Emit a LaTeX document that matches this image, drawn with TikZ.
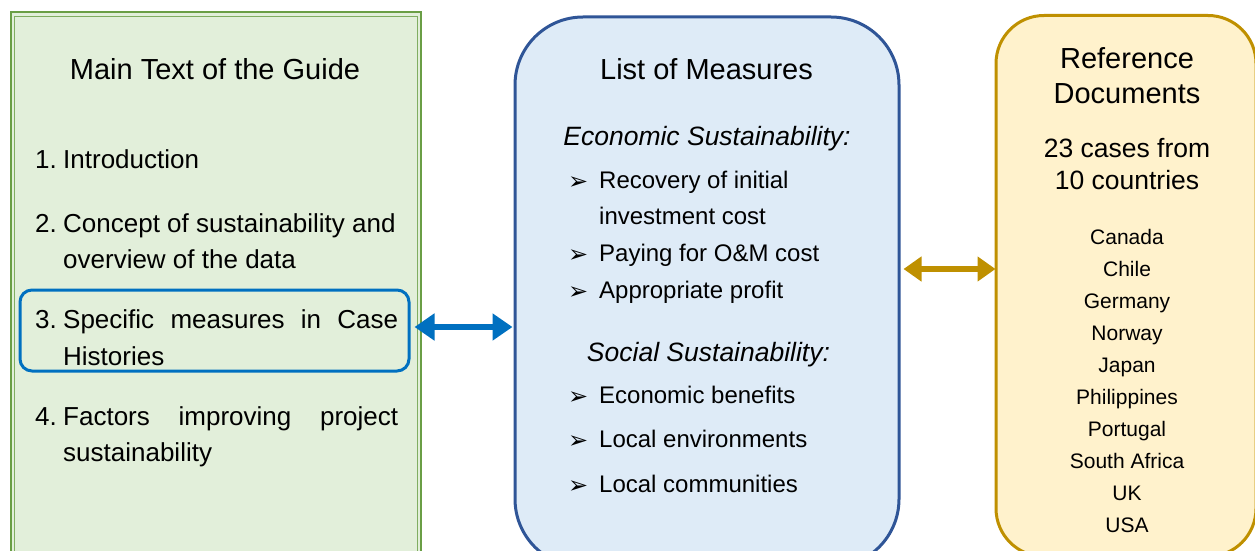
\documentclass[tikz,border=0pt]{standalone}
\usepackage{fontspec}
\setmainfont{Liberation Sans}
\newfontfamily\dvsans{DejaVu Sans}
\usetikzlibrary{arrows.meta}
\definecolor{gfill}{HTML}{E2EFDA}
\definecolor{gline}{HTML}{6A9E45}
\definecolor{bfill}{HTML}{DEEBF7}
\definecolor{bline}{HTML}{2F5597}
\definecolor{yfill}{HTML}{FFF2CC}
\definecolor{yline}{HTML}{BF9000}
\definecolor{hblue}{HTML}{0070C0}
\begin{document}
\begin{tikzpicture}[x=1pt,y=-1pt,
  txt/.style={inner sep=0pt, anchor=base west},
  ctxt/.style={inner sep=0pt, anchor=base},
  titlef/.style={font=\fontsize{29}{34}\selectfont},
  itemf/.style={font=\fontsize{26}{31}\selectfont},
  headf/.style={font=\fontsize{26.5}{31}\selectfont\itshape},
  bulf/.style={font=\fontsize{24}{28}\selectfont},
  ctryf/.style={font=\fontsize{21}{25}\selectfont},
  casef/.style={font=\fontsize{26.5}{31}\selectfont},
  bulletmark/.style={inner sep=0pt, anchor=base west, font=\dvsans\fontsize{24}{28}\selectfont},
  barrow/.style={draw=hblue, line width=6pt, {Triangle[length=20pt,width=26pt]}-{Triangle[length=20pt,width=26pt]}},
  garrow/.style={draw=yline, line width=5.5pt, {Triangle[length=18pt,width=24pt]}-{Triangle[length=18pt,width=24pt]}}
]
\useasboundingbox (0,0) rectangle (1255,551);
\clip (0,0) rectangle (1255,551);

% left box
\node[draw=gline, line width=2pt, fill=gfill, minimum width=410.5pt, minimum height=590pt, inner sep=0pt]
  (left) at (215.75,307.5) {};
\draw[gline!85, line width=0.9pt] (14.5,16.5) rectangle (417,620);

% middle box
\node[draw=bline, line width=3pt, fill=bfill, rounded corners=68pt, minimum width=384pt, minimum height=550pt, inner sep=0pt]
  (mid) at (707,292) {};

% right box
\node[draw=yline, line width=3pt, fill=yfill, rounded corners=48pt, minimum width=260pt, minimum height=541pt, inner sep=0pt]
  (right) at (1126,286) {};

% highlight
\node[draw=hblue, line width=3pt, rounded corners=12pt, minimum width=389pt, minimum height=81pt, inner sep=0pt]
  (hl) at (214.5,330.5) {};

% left texts
\node[ctxt, titlef] (lt) at (215,80) {Main Text of the Guide};
\node[txt, itemf] (n1) at (35,168) {1.};
\node[txt, itemf] (t1) at (63,168) {Introduction};
\node[txt, itemf] (n2) at (35,232) {2.};
\node[txt, itemf] (t2a) at (63,232) {Concept of sustainability and};
\node[txt, itemf] (t2b) at (63,268) {overview of the data};
\node[txt, itemf] (n3) at (35,328) {3.};
\node[txt, itemf] (t3a) at (63,328) {\makebox[335pt][s]{Specific measures in Case}};
\node[txt, itemf] (t3b) at (63,365) {Histories};
\node[txt, itemf] (n4) at (35,425) {4.};
\node[txt, itemf] (t4a) at (63,425) {\makebox[335pt][s]{Factors improving project}};
\node[txt, itemf] (t4b) at (63,461) {sustainability};

% middle texts
\node[ctxt, titlef] (mt) at (706.5,80) {List of Measures};
\node[ctxt, headf] (eh) at (707,145) {Economic Sustainability:};
\node[bulletmark] (b1) at (568,189) {➢};
\node[txt, bulf] (e1a) at (599,188) {Recovery of initial};
\node[txt, bulf] (e1b) at (599,224) {investment cost};
\node[bulletmark] (b2) at (568,262) {➢};
\node[txt, bulf] (e2) at (599,261) {Paying for O\&M cost};
\node[bulletmark] (b3) at (568,299) {➢};
\node[txt, bulf] (e3) at (599,298) {Appropriate profit};
\node[ctxt, headf] (sh) at (708.5,361) {Social Sustainability:};
\node[bulletmark] (b4) at (568,404) {➢};
\node[txt, bulf] (s1) at (599,403) {Economic benefits};
\node[bulletmark] (b5) at (568,448) {➢};
\node[txt, bulf] (s2) at (599,447) {Local environments};
\node[bulletmark] (b6) at (568,493) {➢};
\node[txt, bulf] (s3) at (599,492) {Local communities};

% right texts
\node[ctxt, titlef] (r1) at (1127,69) {Reference};
\node[ctxt, titlef] (r2) at (1127,103) {Documents};
\node[ctxt, casef] (c1) at (1127,157) {23 cases from};
\node[ctxt, casef] (c2) at (1127,189) {10 countries};
\node[ctxt, ctryf] (k1) at (1127,244) {Canada};
\node[ctxt, ctryf] (k2) at (1127,276) {Chile};
\node[ctxt, ctryf] (k3) at (1127,308) {Germany};
\node[ctxt, ctryf] (k4) at (1127,340) {Norway};
\node[ctxt, ctryf] (k5) at (1127,372) {Japan};
\node[ctxt, ctryf] (k6) at (1127,404) {Philippines};
\node[ctxt, ctryf] (k7) at (1127,436) {Portugal};
\node[ctxt, ctryf] (k8) at (1127,468) {South Africa};
\node[ctxt, ctryf] (k9) at (1127,500) {UK};
\node[ctxt, ctryf] (k10) at (1127,532) {USA};

% arrows
\coordinate (by) at (0,327);
\coordinate (gy) at (0,269);
\draw[barrow] ([xshift=4pt]hl.east |- by) -- ([xshift=-1pt]mid.west |- by);
\draw[garrow] ([xshift=3pt]mid.east |- gy) -- ([xshift=1pt]right.west |- gy);
\end{tikzpicture}
\end{document}
